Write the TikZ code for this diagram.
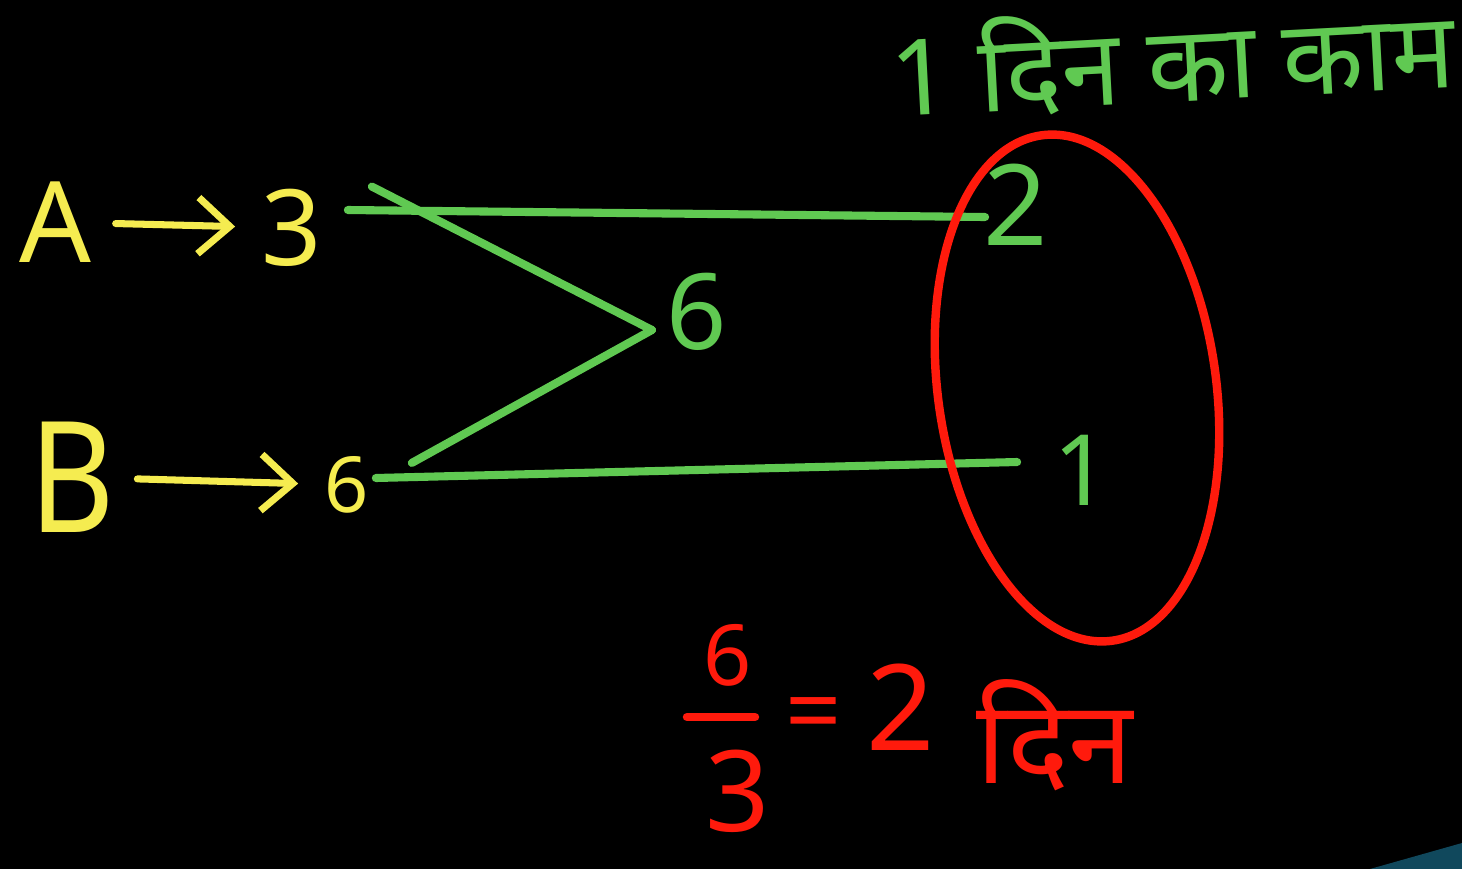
\documentclass[tikz,border=0pt]{standalone}
\usepackage{fontspec}
\setmainfont{Noto Sans}
\newfontfamily\deva[Script=Devanagari]{Noto Sans}
\usetikzlibrary{arrows.meta,positioning}

\definecolor{penyellow}{RGB}{245,236,80}
\definecolor{pengreen}{RGB}{96,201,82}
\definecolor{penred}{RGB}{255,26,12}
\definecolor{screenteal}{RGB}{16,72,92}

\begin{document}
\begin{tikzpicture}[
    x=0.01cm, y=-0.01cm,
    ylw/.style={text=penyellow, inner sep=0pt},
    grn/.style={text=pengreen, inner sep=0pt},
    rd/.style={text=penred, inner sep=0pt},
    yarr/.style={draw=penyellow, line width=2pt, line cap=round, -{Straight Barb[length=9pt,width=16pt,line width=2pt]}},
    gline/.style={draw=pengreen, line width=2.3pt, line cap=round},
    redpen/.style={draw=penred, line width=2.4pt, line cap=round}
]

% Blackboard
\fill[black] (0,0) rectangle (1462,869);
\useasboundingbox (0,0) rectangle (1462,869);
\fill[screenteal] (1370,869) -- (1462,843) -- (1462,869) -- cycle;

% Time taken by A and B
\node[ylw, font=\fontsize{32}{34}\selectfont] (A) at (55,222) {A};
\node[ylw, font=\fontsize{30}{32}\selectfont] (nA) at (292,228) {3};
\node[ylw, font=\fontsize{44}{46}\selectfont, xscale=0.85] (B) at (72,477) {B};
\node[ylw, font=\fontsize{22}{24}\selectfont] (nB) at (347,485) {6};
\draw[yarr, shorten <=0.24cm, shorten >=0.26cm] (A) -- (nA);
\draw[yarr, shorten <=0.22cm, shorten >=0.26cm] (B) -- (nB);

% LCM and one day's work
\node[grn, font=\fontsize{30}{32}\selectfont] (lcm) at (697,312) {6};
\node[grn, font=\fontsize{32}{34}\selectfont] (dA) at (1016,205) {2};
\node[grn, font=\fontsize{28}{30}\selectfont] (dB) at (1082,470) {1};
\coordinate (vtx) at (652,330);
\node[grn, font=\deva\fontsize{30}{32}\selectfont, rotate=3] (title) at (1172,58) {1 दिन का काम};

\draw[gline] ([shift={(25,-18)}]nA.east) -- ([shift={(2,12)}]dA.west);
\draw[gline] ([shift={(6,-7)}]nB.east) -- ([shift={(-36,-8)}]dB.west);
\draw[gline] ([shift={(49,-2)}]nA.north east) -- (vtx);
\draw[gline] ([shift={(42,7)}]nB.north east) -- (vtx);

% Combined work
\draw[redpen, rotate around={8:(1077,388)}] (1077,388) ellipse [x radius=1.39cm, y radius=2.55cm];

% Result
\node[rd, font=\fontsize{24}{26}\selectfont] (fnum) at (728,655) {6};
\node[rd, font=\fontsize{32}{34}\selectfont] (fden) at (738,791) {3};
\draw[redpen] (687,717) -- (755,717);
\node[rd, font=\fontsize{28}{30}\selectfont] (eq) at (814,722) {=};
\node[rd, font=\fontsize{34}{36}\selectfont] (two) at (901,707) {2};
\node[rd, font=\deva\fontsize{33}{35}\selectfont] (din) at (1055,735) {दिन};

\end{tikzpicture}
\end{document}
